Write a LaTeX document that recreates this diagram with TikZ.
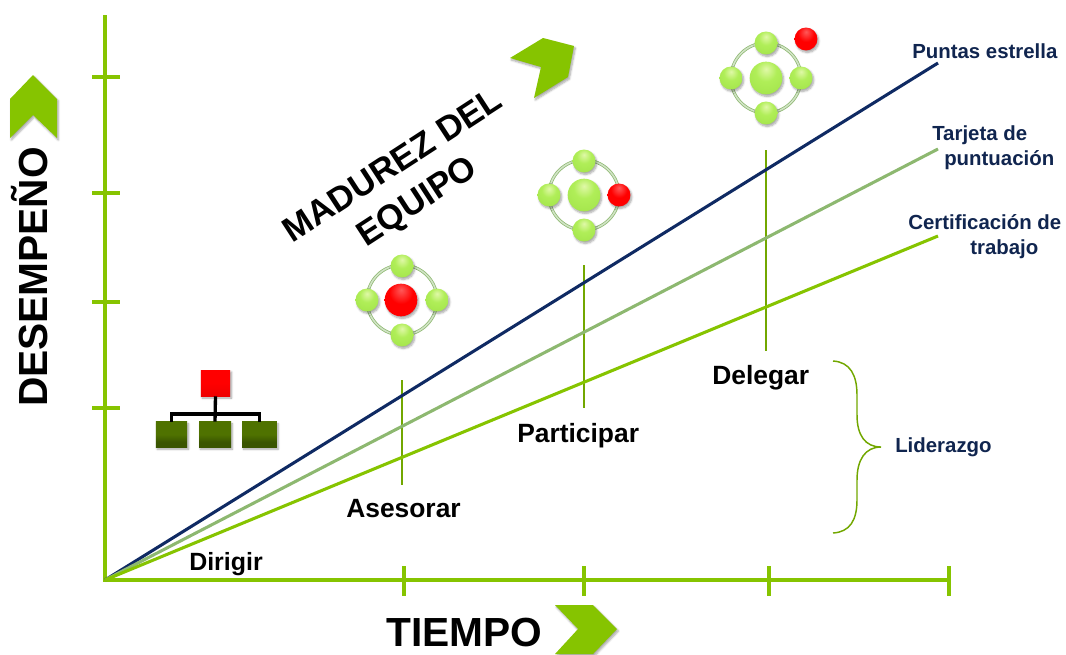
\documentclass[tikz,border=0pt]{standalone}
\usepackage{fontspec}
\setmainfont{Liberation Sans}
\usetikzlibrary{shadows.blur}
\definecolor{axisgreen}{HTML}{86C400}
\definecolor{softgreen}{HTML}{8DB870}
\definecolor{navy}{HTML}{0F2A63}
\definecolor{labelnavy}{HTML}{10254F}
\definecolor{ballhi}{HTML}{E0F8A8}
\definecolor{ballmid}{HTML}{B0EE58}
\definecolor{ballbody}{HTML}{A0E248}
\definecolor{balledge}{HTML}{5E9A20}
\definecolor{leafdark}{HTML}{3A5500}
\definecolor{leafmid}{HTML}{4F7200}
\definecolor{leaflight}{HTML}{66880F}
\pgfdeclareradialshading{greenball}{\pgfpoint{0bp}{14bp}}{
  color(0bp)=(ballhi);
  color(16bp)=(ballmid);
  color(42bp)=(ballbody);
  color(54bp)=(ballbody);
  color(64bp)=(balledge);
  color(75bp)=(balledge)}
\pgfdeclareradialshading{redball}{\pgfpoint{0bp}{16bp}}{
  color(0bp)=(red!65!white);
  color(18bp)=(red);
  color(52bp)=(red);
  color(66bp)=(red!75!black);
  color(75bp)=(red!70!black)}
\pgfdeclareverticalshading{darkbox}{100bp}{
  color(0bp)=(leafdark);
  color(35bp)=(leafdark);
  color(50bp)=(leafmid);
  color(85bp)=(leafmid);
  color(100bp)=(leaflight)}
\pgfdeclareverticalshading{redbox}{100bp}{
  color(0bp)=(red!70!black);
  color(12bp)=(red!90!black);
  color(50bp)=(red);
  color(100bp)=(red)}
\tikzset{
  x=0.75pt,y=-0.75pt,
  axisline/.style={draw=axisgreen,line width=2.3pt},
  tickline/.style={draw=axisgreen,line width=2.3pt},
  guide/.style={draw=axisgreen!85!black,line width=0.9pt},
  trend/.style={line width=2.3pt},
  shadowed/.style={blur shadow={shadow xshift=1pt,shadow yshift=-1.5pt,shadow blur steps=6,shadow blur radius=1.5pt,shadow opacity=35}},
  bigball/.style={circle,inner sep=0pt,minimum size=24.5pt,shading=greenball,shadowed},
  smallball/.style={circle,inner sep=0pt,minimum size=17.2pt,shading=greenball,shadowed},
  redsmall/.style={circle,inner sep=0pt,minimum size=17.2pt,shading=redball,shadowed},
  redbig/.style={circle,inner sep=0pt,minimum size=24.5pt,shading=redball,shadowed},
  ring/.style={draw=softgreen,line width=2.3pt},
  ringlight/.style={draw=softgreen!40!white,line width=1.2pt},
  chevron/.style={fill=axisgreen,draw=none,shadowed},
  leaf/.style={rectangle,inner sep=0pt,minimum height=19pt,shading=darkbox,draw=none,shadowed},
  rootbox/.style={rectangle,inner sep=0pt,minimum width=22pt,minimum height=19.5pt,shading=redbox,draw=none,shadowed},
  orgline/.style={draw=black,line width=2.5pt},
  biglabel/.style={font=\bfseries\fontsize{19.8}{24}\selectfont,text=black,inner sep=0pt},
  title/.style={font=\bfseries\fontsize{30.5}{34}\selectfont,text=black,inner sep=0pt},
  smalllabel/.style={font=\bfseries\fontsize{15.3}{18.8}\selectfont,text=labelnavy,inner sep=0pt,align=left},
}
\begin{document}
\begin{tikzpicture}
\useasboundingbox (0,0) rectangle (1066,654);

% axes
\coordinate (org) at (105,580);
\coordinate (ytop) at (105,15);
\coordinate (xend) at (949,580);
\draw[axisline] (ytop) -- (org) -- (xend);
\foreach \n/\yy in {a/77,b/193,c/302,d/408}{
  \coordinate (yl\n) at (92,\yy); \coordinate (yr\n) at (120,\yy);
  \draw[tickline] (yl\n) -- (yr\n);}
\foreach \n/\xx in {a/404,b/584,c/769,d/949}{
  \coordinate (xt\n) at (\xx,566); \coordinate (xb\n) at (\xx,596);
  \draw[tickline] (xt\n) -- (xb\n);}

% guides
\coordinate (g1t) at (402,380); \coordinate (g1b) at (402,485);
\coordinate (g2t) at (584,265); \coordinate (g2b) at (584,408);
\coordinate (g3t) at (766,150); \coordinate (g3b) at (766,351);
\draw[guide] (g1t) -- (g1b);
\draw[guide] (g2t) -- (g2b);
\draw[guide] (g3t) -- (g3b);

% trend lines
\coordinate (e1) at (938,63);
\coordinate (e2) at (938,149);
\coordinate (e3) at (938,236);
\draw[trend,draw=navy] (org) -- (e1);
\draw[trend,draw=softgreen] (org) -- (e2);
\draw[trend,draw=axisgreen] (org) -- (e3);

% chevrons
\fill[chevron] (33,75) -- (57,99) -- (57,138) -- (33,115) -- (10,138) -- (10,99) -- cycle;
\fill[chevron] (510,58) -- (543,38) -- (574,46) -- (568,77) -- (534,98) -- (541,67) -- cycle;
\fill[chevron] (555,605) -- (593,605) -- (617,629) -- (593,654) -- (555,654) -- (578,629) -- cycle;

% org chart
\node[rootbox] (root) at (215.5,383) {};
\node[leaf,minimum width=23.5pt] (l1) at (171.5,434.5) {};
\node[leaf,minimum width=24pt] (l2) at (215,434.5) {};
\node[leaf,minimum width=26pt] (l3) at (259.5,434.5) {};
\coordinate (hub) at (215,414);
\draw[orgline] (root.south) -- (l2.north);
\draw[orgline] (l1.north) |- (hub) -| (l3.north);

% team icons
\foreach \p/\cx/\cy in {A/402/300,B/584/195,C/766/78}{
  \coordinate (ring\p) at (\cx,\cy);
  \draw[ring] (ring\p) circle[radius=26.3pt];
  \draw[ringlight] (ring\p) circle[radius=26.3pt];
}
% icon 1 (lower)
\node[smallball] (a1) at (402,266) {};
\node[smallball] (a2) at (367,300) {};
\node[smallball] (a3) at (437,300) {};
\node[smallball] (a4) at (402,335) {};
\node[redbig] (a0) at (401,300) {};
% icon 2 (middle)
\node[smallball] (b1) at (584,161) {};
\node[smallball] (b2) at (549,195) {};
\node[redsmall] (b3) at (619,195) {};
\node[smallball] (b4) at (584,230) {};
\node[bigball] (b0) at (584,195) {};
% icon 3 (top)
\node[smallball] (c1) at (766,43) {};
\node[smallball] (c2) at (731,78) {};
\node[smallball] (c3) at (801,78) {};
\node[smallball] (c4) at (766,113) {};
\node[bigball] (c0) at (766,78) {};
\node[redsmall] (c5) at (806,39) {};

% brace
\coordinate (br1) at (833,361); \coordinate (brt) at (881,447); \coordinate (br2) at (833,533);
\draw[axisgreen!85!black,line width=1.1pt] (br1) .. controls (850,362) and (857,375) .. (857,395)
  -- (857,415) .. controls (857,435) and (865,447) .. (brt)
  .. controls (865,447) and (857,460) .. (857,480)
  -- (857,500) .. controls (857,520) and (850,532) .. (br2);

% labels
\node[title,rotate=90] (dz) at (30,277) {DESEMPEÑO};
\node[title,anchor=west] (tp) at (386,632) {TIEMPO};
\node[font=\bfseries\fontsize{26}{30}\selectfont,text=black,rotate=33] (mq1) at (392,165) {MADUREZ DEL};
\node[font=\bfseries\fontsize{26}{30}\selectfont,text=black,rotate=33] (mq2) at (418,203) {EQUIPO};
\node[biglabel,font=\bfseries\fontsize{18.7}{22}\selectfont,anchor=west] (dg) at (189,564) {Dirigir};
\node[biglabel,anchor=west] (as) at (346,509) {Asesorar};
\node[biglabel,anchor=west] (pt) at (517,436) {Participar};
\node[biglabel,anchor=west] (dl) at (712,378) {Delegar};
\node[smalllabel,anchor=west] (s1) at (912,51) {Puntas estrella};
\node[smalllabel,anchor=west] (s2) at (932,148) {Tarjeta de\\\hspace*{9pt}puntuación};
\node[smalllabel,anchor=west] (s3) at (908,237) {Certificación de\\\hspace*{46.5pt}trabajo};
\node[smalllabel,anchor=west] (s4) at (895,447) {Liderazgo};
\end{tikzpicture}
\end{document}
